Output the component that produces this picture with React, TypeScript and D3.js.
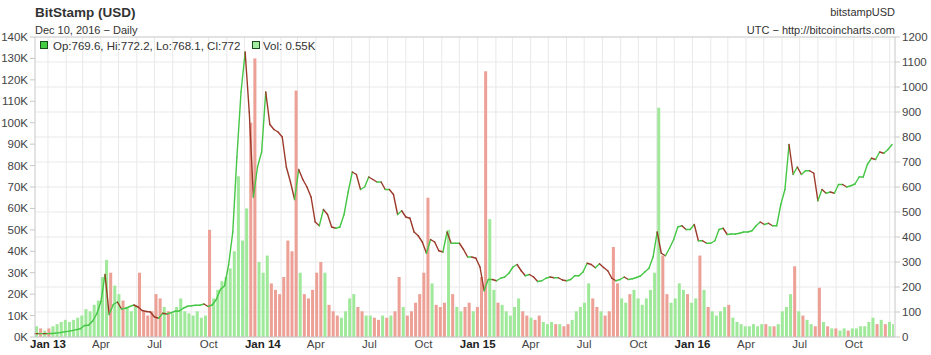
import React from "react";
import * as d3 from "d3";

// Weekly samples starting Mon Dec 10, 2012 (USD close level)
const weeklyPrice: number[] = [
  13.5, 13.4, 13.5, 13.4, 14, 15.5, 17.5, 20.5, 22.5, 25.5, 29.5, 33,
  46, 47, 64, 93, 142, 250, 90, 130, 140, 112, 115, 122, 128, 120, 106, 102, 100,
  80, 75, 95, 92, 97, 103, 104, 115, 123, 125, 127, 127, 132, 122, 128, 150, 190, 205,
  290, 420, 720, 980, 1140, 900, 560, 680, 740,
  980, 850, 830, 820, 800, 680, 620, 550, 670, 630, 600, 560, 460, 445, 510, 490, 440,
  435, 440, 490, 580, 660, 650, 590, 600, 640, 630, 620, 620, 590, 590, 570, 490, 505,
  480, 475, 420, 405, 380, 335, 390, 380, 345, 340, 420, 375, 375, 375, 350, 320, 320, 315,
  280, 185, 230, 230, 225, 235, 240, 255, 280, 290, 265, 245, 250, 240, 222, 225, 235,
  240, 237, 237, 228, 225, 230, 245, 245, 260, 295, 290, 277, 293, 278, 265, 235, 225,
  230, 240, 230, 233, 238, 245, 260, 275, 320, 420, 335, 325, 355, 390, 440, 445, 430, 430,
  450, 385, 385, 375, 375, 385, 430, 435, 410, 412, 412, 415, 420, 420, 425, 445, 460,
  450, 455, 445, 445, 530, 590, 770, 650, 680, 650, 665, 665, 655, 545, 590, 575, 580, 575,
  610, 610, 600, 605, 612, 640, 640, 690, 715, 710, 740, 735, 750, 770,
];

// Weekly volume level, thousands of BTC
const weeklyVolume: number[] = [
  5, 4, 3, 4, 5, 6, 7, 8, 7, 8, 9, 10,
  13, 12, 15, 17, 28, 36, 30, 24, 20, 17, 14, 12, 15, 30, 12, 10, 12,
  20, 18, 14, 12, 11, 14, 18, 12, 11, 10, 12, 9, 10, 50, 18, 22, 26, 28,
  32, 40, 75, 45, 60, 100, 130, 35, 30,
  38, 25, 22, 20, 28, 45, 40, 115, 30, 20, 18, 22, 30, 35, 30, 15, 12,
  10, 9, 12, 18, 20, 14, 12, 10, 10, 9, 8, 10, 9, 10, 12, 28, 14,
  10, 12, 16, 20, 30, 65, 25, 15, 14, 16, 50, 20, 14, 12, 14, 16, 12, 14,
  28, 124, 55, 22, 16, 15, 12, 10, 14, 18, 12, 10, 9, 8, 10, 7, 6,
  7, 6, 6, 5, 6, 8, 12, 14, 16, 25, 18, 14, 12, 10, 12, 42, 25,
  18, 16, 20, 22, 18, 15, 18, 22, 30, 107, 38, 20, 16, 18, 25, 22, 20, 16,
  18, 38, 22, 14, 12, 10, 12, 14, 15, 9, 7, 6, 5, 5, 6, 5, 6,
  6, 5, 5, 6, 12, 14, 20, 33, 12, 10, 8, 6, 5, 23, 7, 5, 4, 4,
  3, 4, 3, 4, 4, 5, 5, 7, 9, 6, 8, 6, 7, 6,
];

const volTicks: number[] = [0, 10, 20, 30, 40, 50, 60, 70, 80, 90, 100, 110, 120, 130, 140];
const priceTicks: number[] = [0, 100, 200, 300, 400, 500, 600, 700, 800, 900, 1000, 1100, 1200];
const monthNames: string[] = ["Jan", "Feb", "Mar", "Apr", "May", "Jun", "Jul", "Aug", "Sep", "Oct", "Nov", "Dec"];

const title = "BitStamp (USD)";
const subtitle = "Dec 10, 2016 \u2212 Daily";
const symbolText = "bitstampUSD";
const sourceText = "UTC \u2212 http://bitcoincharts.com";
const ohlcText = "Op:769.6, Hi:772.2, Lo:768.1, Cl:772";
const volText = "Vol: 0.55K";

const START = new Date(Date.UTC(2012, 11, 10));
const END = new Date(Date.UTC(2016, 11, 10));

const FONT = "'Liberation Sans', Arial, sans-serif";

export default function App() {
  const W = 931, H = 355;
  const left = 35, right = 895, top = 37, bottom = 337;

  const x = d3.scaleUtc().domain([START, END]).range([left, right]);
  const yP = d3.scaleLinear().domain([0, 1200]).range([bottom, top]);
  const yV = d3.scaleLinear().domain([0, 140]).range([bottom, top]);

  const dates = weeklyPrice.map((_, i) => d3.utcDay.offset(START, 7 * i));
  const months = d3.utcMonth.range(d3.utcMonth.ceil(START), END);
  const quarters = months.filter((m) => m.getUTCMonth() % 3 === 0);

  const upColor = "#45c645";
  const downColor = "#9c3a2a";
  const volUp = "#a0e99b";
  const volDown = "#eca096";

  return (
    <svg width={W} height={H} style={{ position: "absolute", left: 0, top: 0, background: "#fff" }} fontFamily={FONT}>
      <rect x={0} y={0} width={W} height={H} fill="#fff" />
      {/* gridlines */}
      {months.map((m, i) => (
        <line key={"mg" + i} x1={x(m)} x2={x(m)} y1={top} y2={bottom} stroke="#e9e9e9" strokeWidth={1} />
      ))}
      {priceTicks.map((t) => (
        <line key={"pg" + t} x1={left} x2={right} y1={yP(t)} y2={yP(t)} stroke="#e9e9e9" strokeWidth={1} />
      ))}
      {/* volume bars */}
      {weeklyVolume.map((v, i) => {
        const x0 = x(dates[i]);
        const x1 = Math.min(x(d3.utcDay.offset(dates[i], 7)), right);
        const up = i === 0 ? true : weeklyPrice[i] >= weeklyPrice[i - 1];
        return (
          <rect key={"v" + i} x={x0} y={yV(v)} width={Math.max(0.5, x1 - x0 - 1.1)} height={bottom - yV(v)}
            fill={up ? volUp : volDown} />
        );
      })}
      {/* price segments */}
      {weeklyPrice.slice(1).map((p, j) => {
        const i = j + 1;
        const up = p >= weeklyPrice[i - 1];
        return (
          <line key={"p" + i} x1={x(dates[i - 1])} y1={yP(weeklyPrice[i - 1])} x2={x(dates[i])} y2={yP(p)}
            stroke={up ? upColor : downColor} strokeWidth={1.4} strokeLinecap="round" />
        );
      })}
      {/* frame */}
      <line x1={left} x2={right} y1={top} y2={top} stroke="#d0d0d0" />
      <line x1={left} x2={left} y1={top} y2={bottom} stroke="#c8c8c8" />
      <line x1={right} x2={right} y1={top} y2={bottom} stroke="#c8c8c8" />
      <line x1={left} x2={right} y1={bottom} y2={bottom} stroke="#c8c8c8" />
      {/* left axis */}
      {volTicks.map((t) => (
        <g key={"lv" + t}>
          <line x1={left - 5} x2={left} y1={yV(t)} y2={yV(t)} stroke="#c8c8c8" />
          <text x={left - 7} y={yV(t)} dy="0.35em" textAnchor="end" fontSize={11.5} fill="#444">{t + "K"}</text>
        </g>
      ))}
      {/* right axis */}
      {priceTicks.map((t) => (
        <g key={"rp" + t}>
          <line x1={right} x2={right + 5} y1={yP(t)} y2={yP(t)} stroke="#c8c8c8" />
          <text x={right + 7} y={yP(t)} dy="0.35em" textAnchor="start" fontSize={11.5} fill="#444">{t}</text>
        </g>
      ))}
      {/* bottom axis */}
      {quarters.map((q, i) => {
        const isJan = q.getUTCMonth() === 0;
        const label = isJan ? "Jan " + String(q.getUTCFullYear()).slice(2) : monthNames[q.getUTCMonth()];
        return (
          <text key={"bx" + i} x={x(q)} y={348} textAnchor="middle" fontSize={11.5}
            fontWeight={isJan ? "bold" : "normal"} fill={isJan ? "#222" : "#444"}>{label}</text>
        );
      })}
      {/* headers */}
      <text x={35} y={17} fontSize={13.5} fontWeight="bold" fill="#333">{title}</text>
      <text x={35} y={34} fontSize={11} fill="#333">{subtitle}</text>
      <text x={895} y={16} fontSize={11} textAnchor="end" fill="#333">{symbolText}</text>
      <text x={895} y={34} fontSize={11} textAnchor="end" fill="#333">{sourceText}</text>
      {/* legend */}
      <rect x={40.5} y={41.5} width={7} height={7} fill="#44cc44" stroke="#1a4d1a" />
      <text x={53} y={49.5} fontSize={11.5} fill="#333">{ohlcText}</text>
      <rect x={252.5} y={41.5} width={7} height={7} fill="#a3eca3" stroke="#1a4d1a" />
      <text x={263} y={49.5} fontSize={11.5} fill="#333">{volText}</text>
    </svg>
  );
}
